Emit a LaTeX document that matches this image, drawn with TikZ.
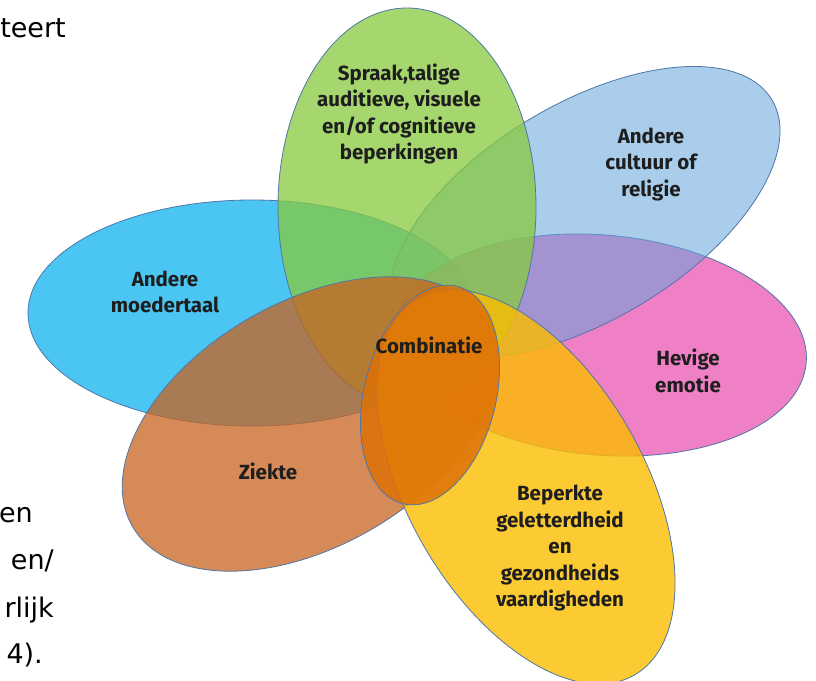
\documentclass[tikz,border=0pt]{standalone}
\usepackage{fontspec}
\setmainfont{Fira Sans}
\newfontfamily\bodyfont{DejaVu Sans}
\usetikzlibrary{shapes.geometric}

\definecolor{greenpetal}{RGB}{135,202,62}
\definecolor{lightbluepetal}{RGB}{100,164,219}
\definecolor{bluepetal}{RGB}{15,179,239}
\definecolor{pinkpetal}{RGB}{235,86,179}
\definecolor{yellowpetal}{RGB}{252,189,0}
\definecolor{orangepetal}{RGB}{200,99,32}
\definecolor{combipetal}{RGB}{221,113,8}
\definecolor{petalline}{RGB}{78,118,168}
\definecolor{petalink}{RGB}{30,30,30}

\begin{document}
\begin{tikzpicture}[
        x=1pt, y=-1pt,
        petal/.style={ellipse, draw=petalline, line width=0.8pt, inner sep=0pt, outer sep=0pt, fill opacity=0.75},
        petaltext/.style={font=\bfseries\fontsize{20.5}{26.5}\selectfont, text=petalink, align=center},
        bodytext/.style={font=\bodyfont\fontsize{27}{32}\selectfont, text=black, anchor=base east, inner sep=0pt}
    ]
        % --- PAGE ---
        \useasboundingbox (0,0) rectangle (816,680);
        \fill[white] (0,0) rectangle (816,680);

        % --- PETALS ---
        \node[petal, fill=bluepetal, minimum width=448pt, minimum height=226pt] (moedertaal) at (252,313) {};
        \node[petal, fill=pinkpetal, minimum width=412pt, minimum height=220pt, rotate=-5] (emotie) at (601,345) {};
        \node[petal, fill=lightbluepetal, fill opacity=0.55, minimum width=436pt, minimum height=216pt, rotate=31] (cultuur) at (585,212) {};
        \node[petal, fill=greenpetal, minimum width=258pt, minimum height=398pt] (beperkingen) at (407,207) {};
        \node[petal, fill=orangepetal, minimum width=410pt, minimum height=244pt, rotate=30] (ziekte) at (310,424) {};
        \node[petal, fill=yellowpetal, fill opacity=0.8, minimum width=434pt, minimum height=236pt, rotate=-60] (geletterdheid) at (526,487) {};
        \node[petal, fill=combipetal, fill opacity=0.85, minimum width=224pt, minimum height=132pt, rotate=76] (combinatie) at (430,395) {};

        % --- LABELS ---
        \node[petaltext] (t_beperkingen) at (399,114) {Spraak,talige\\auditieve, visuele\\en/of cognitieve\\beperkingen};
        \node[petaltext] (t_cultuur) at (651,164) {Andere\\cultuur of\\religie};
        \node[petaltext] (t_moedertaal) at (165,292) {Andere\\moedertaal};
        \node[petaltext] (t_emotie) at (688,371) {Hevige\\emotie};
        \node[petaltext] (t_ziekte) at (268,471) {Ziekte};
        \node[petaltext] (t_geletterdheid) at (560,548) {Beperkte\\geletterdheid\\en\\gezondheids\\vaardigheden};
        \node[petaltext] (t_combinatie) at (429,345) {Combinatie};

        % --- CUT-OFF BODY TEXT ---
        \node[bodytext] (frag_a) at (66,37) {teert};
        \node[bodytext] (frag_b) at (33,522) {en};
        \node[bodytext] (frag_c) at (54,569) {en/};
        \node[bodytext] (frag_d) at (54,617) {rlijk};
        \node[bodytext] (frag_e) at (43,663) {4).};

    \end{tikzpicture}
\end{document}
